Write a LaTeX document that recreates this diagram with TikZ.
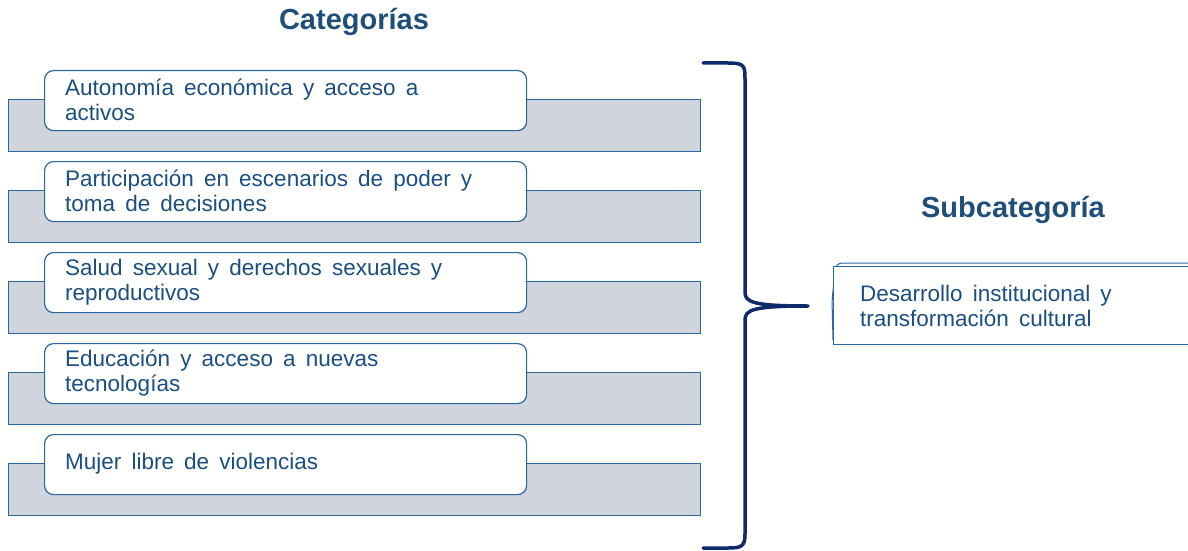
\documentclass[tikz,border=0pt]{standalone}
\usepackage{fontspec}
\setmainfont{Liberation Sans}
\definecolor{txtblue}{HTML}{1B4F82}
\definecolor{ttlblue}{HTML}{1F4E79}
\definecolor{edgeblue}{HTML}{2A67A0}
\definecolor{grayfill}{HTML}{CFD4DD}
\definecolor{navy}{HTML}{0E2A6A}
\tikzset{
  graybar/.style={draw=edgeblue, line width=1.2pt, fill=grayfill, minimum width=692pt, minimum height=52pt, inner sep=0pt, anchor=north west},
  whitebox/.style={draw=edgeblue, line width=1.2pt, fill=white, rounded corners=9pt, minimum width=482pt, minimum height=60pt, inner sep=0pt, anchor=north west},
  boxtext/.style={text=txtblue, font=\fontsize{22.5}{24.5}\selectfont, align=left, anchor=west, inner sep=0pt, text width=460pt, execute at begin node={\spaceskip=0.45em plus 0.1em}},
  titletext/.style={text=ttlblue, font=\fontsize{29}{32}\selectfont\bfseries, inner sep=0pt},
}
\begin{document}
\begin{tikzpicture}[x=1pt,y=-1pt]
\useasboundingbox (0,0) rectangle (1188,551);
% rows
\foreach \i/\t/\txt in {1/70/{Autonomía económica y acceso a\\activos},
                        2/161/{Participación en escenarios de poder y\\toma de decisiones},
                        3/252/{Salud sexual y derechos sexuales y\\reproductivos},
                        4/343/{Educación y acceso a nuevas\\tecnologías},
                        5/434/{Mujer libre de violencias}}{
  \node[graybar] (bar\i) at (8,\t+29) {};
  \node[whitebox] (box\i) at (44,\t) {};
  \node[boxtext] (lbl\i) at (65,\t+30) {\txt};
}
\node[titletext] (cat) at (354,22) {Categorías};
\node[titletext] (sub) at (1013,210) {Subcategoría};
% subcategory box
\draw[edgeblue, line width=1pt, rounded corners=6pt] (1188,263) -- (836,263) -- (832,300) -- (833,340);
\node[draw=edgeblue, line width=1.2pt, fill=white, minimum width=360pt, minimum height=78pt, inner sep=0pt, anchor=north west] (subbox) at (833,266) {};
\node[boxtext, text width=320pt] (sublbl) at (860,306) {Desarrollo institucional y\\transformación cultural};
% brace
\coordinate (tip) at (808,306);
\draw[navy, line width=3.5pt, line cap=round, line join=round]
  (703,63) -- (728,63) .. controls (745,63) and (745,66) .. (745,80)
  -- (745,292) .. controls (745,302) and (752,306) .. (tip)
  (tip) .. controls (752,306) and (745,310) .. (745,320)
  -- (745,534) .. controls (745,546) and (742,548) .. (728,548) -- (703,548);
\end{tikzpicture}
\end{document}
